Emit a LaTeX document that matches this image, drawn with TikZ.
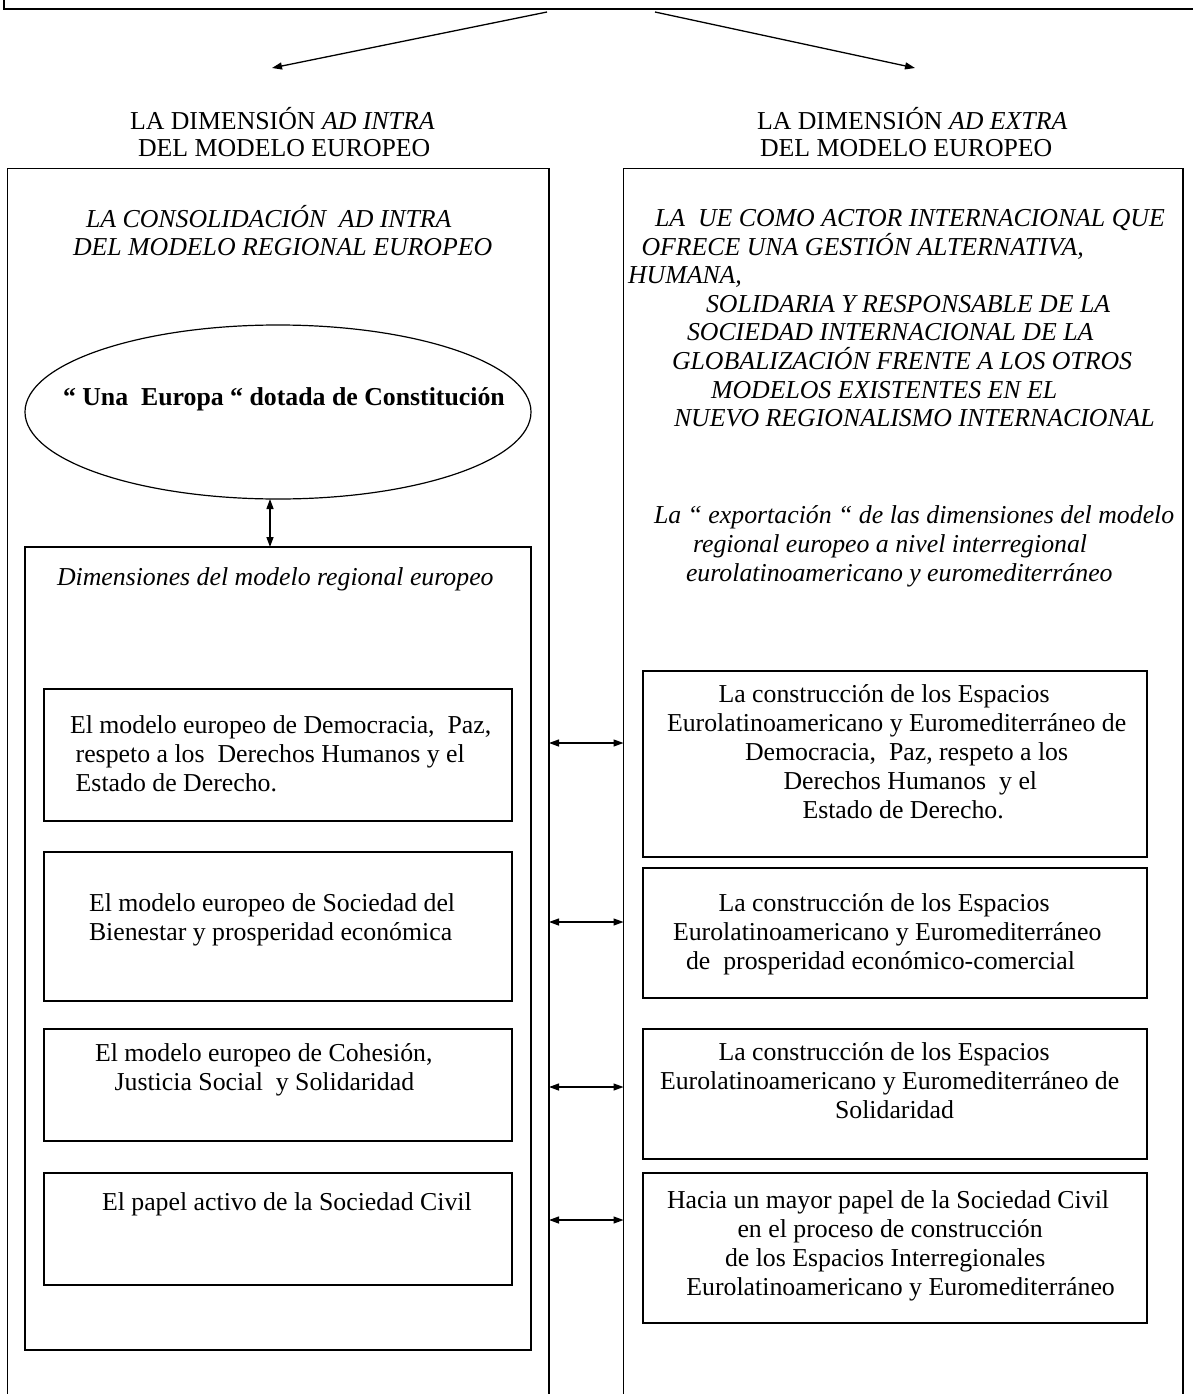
\documentclass[tikz,border=0pt]{standalone}
\usepackage{fontspec}
\setmainfont{Liberation Serif}
\usetikzlibrary{arrows.meta,shapes.geometric}
\newcommand\putline[4]{\node[anchor=base west] (#1) at (#2,#3) {#4};}
\begin{document}
\begin{tikzpicture}[x=1pt,y=-1pt,
  every node/.style={inner sep=0pt, outer sep=0pt, font=\fontsize{25.8pt}{29pt}\selectfont},
  box/.style={draw, line width=1.2pt, anchor=north west},
  arr/.style={-{Triangle[length=10pt,width=7pt]}, line width=1.3pt},
  dbl/.style={{Triangle[length=10pt,width=7pt]}-{Triangle[length=10pt,width=7pt]}, line width=1.3pt}]
\useasboundingbox (0,0) rectangle (1192,1394);
\fill[white] (0,0) rectangle (1192,1394);

% top box (cut by the page)
\node[box, anchor=south west, minimum width=1220pt, minimum height=40pt] (T) at (4,9) {};
\coordinate (tL) at (547,12);
\coordinate (tR) at (655,12);
\coordinate (hL) at (272,68);
\coordinate (hR) at (915,68);
\draw[arr] (tL) -- (hL);
\draw[arr] (tR) -- (hR);

% headers
\putline{h1}{130}{129}{LA DIMENSIÓN \textit{AD INTRA}}
\putline{h2}{138}{157}{DEL MODELO EUROPEO}
\putline{h3}{757}{129}{LA DIMENSIÓN \textit{AD EXTRA}}
\putline{h4}{760}{157}{DEL MODELO EUROPEO}

% big column boxes
\node[box, minimum width=541.5pt, minimum height=1235pt] (BL) at (7.5,168.5) {};
\node[box, minimum width=559.5pt, minimum height=1235pt] (BR) at (623.5,168.5) {};

% left column
\putline{lt1}{86}{227}{\itshape LA CONSOLIDACIÓN\ \ AD INTRA}
\putline{lt2}{73}{255.5}{\itshape DEL MODELO REGIONAL EUROPEO}

\node[draw, ellipse, line width=1.2pt, minimum width=506pt, minimum height=174pt] (E) at (278,412) {};
\putline{et}{63}{405}{\bfseries “ Una\ \ Europa “ dotada de Constitución}

\node[box, minimum width=506pt, minimum height=803pt] (D) at (25,547) {};
\draw[line width=2.2pt] (D.south west) -- (D.south east);
\putline{dt}{57}{585}{\itshape Dimensiones del modelo regional europeo}
\coordinate (ax) at (270,0);
\draw[dbl] (ax |- E.south) -- (ax |- D.north);

\node[box, minimum width=468pt, minimum height=132pt] (L1) at (44,689) {};
\putline{l1a}{70}{733}{El modelo europeo de Democracia,\ \ Paz,}
\putline{l1b}{75.7}{762}{respeto a los\ \ Derechos Humanos y el}
\putline{l1c}{75.7}{791}{Estado de Derecho.}

\node[box, minimum width=468pt, minimum height=149pt] (L2) at (44,852) {};
\putline{l2a}{89}{911}{El modelo europeo de Sociedad del}
\putline{l2b}{89}{940}{Bienestar y prosperidad económica}

\node[box, minimum width=468pt, minimum height=112pt] (L3) at (44,1029) {};
\putline{l3a}{95}{1061}{El modelo europeo de Cohesión,}
\putline{l3b}{114.6}{1090}{Justicia Social\ \ y Solidaridad}

\node[box, minimum width=468pt, minimum height=112pt] (L4) at (44,1173) {};
\putline{l4a}{102}{1210}{El papel activo de la Sociedad Civil}

% right column
\putline{rt1}{655}{226.5}{\itshape LA\ \ UE COMO ACTOR INTERNACIONAL QUE}
\putline{rt2}{641.5}{255.1}{\itshape OFRECE UNA GESTIÓN ALTERNATIVA,}
\putline{rt3}{628}{283.7}{\itshape HUMANA,}
\putline{rt4}{706}{312.3}{\itshape SOLIDARIA Y RESPONSABLE DE LA}
\putline{rt5}{687}{340.9}{\itshape SOCIEDAD INTERNACIONAL DE LA}
\putline{rt6}{672}{369.5}{\itshape GLOBALIZACIÓN FRENTE A LOS OTROS}
\putline{rt7}{711}{398.1}{\itshape MODELOS EXISTENTES EN EL}
\putline{rt8}{674}{426.7}{\itshape NUEVO REGIONALISMO INTERNACIONAL}

\putline{ex1}{654}{523}{\itshape La “ exportación “ de las dimensiones del modelo}
\putline{ex2}{693}{552}{\itshape regional europeo a nivel interregional}
\putline{ex3}{686}{581}{\itshape eurolatinoamericano y euromediterráneo}

\node[box, minimum width=504pt, minimum height=186pt] (R1) at (643,671) {};
\putline{r1a}{718.5}{702}{La construcción de los Espacios}
\putline{r1b}{667}{731}{Eurolatinoamericano y Euromediterráneo de}
\putline{r1c}{745}{760}{Democracia,\ \ Paz, respeto a los}
\putline{r1d}{783.5}{789}{Derechos Humanos\ \ y el}
\putline{r1e}{802.5}{818}{Estado de Derecho.}

\node[box, minimum width=504pt, minimum height=130pt] (R2) at (643,868) {};
\putline{r2a}{718.5}{911}{La construcción de los Espacios}
\putline{r2b}{673}{940}{Eurolatinoamericano y Euromediterráneo}
\putline{r2c}{686}{969}{de\ \ prosperidad económico-comercial}

\node[box, minimum width=504pt, minimum height=130pt] (R3) at (643,1029) {};
\putline{r3a}{718.5}{1060}{La construcción de los Espacios}
\putline{r3b}{660}{1089}{Eurolatinoamericano y Euromediterráneo de}
\putline{r3c}{835}{1118}{Solidaridad}

\node[box, line width=2pt, minimum width=504pt, minimum height=150pt] (R4) at (643,1173) {};
\putline{r4a}{667}{1208}{Hacia un mayor papel de la Sociedad Civil}
\putline{r4b}{737.5}{1237}{en el proceso de construcción}
\putline{r4c}{725}{1266}{de los Espacios Interregionales}
\putline{r4d}{686.4}{1295}{Eurolatinoamericano y Euromediterráneo}

% two-way links between the columns
\foreach \yy/\nm in {743/a1, 922/a2, 1087/a3, 1220/a4} {
  \coordinate (\nm) at (0,\yy);
  \draw[dbl] (BL.east |- \nm) -- (BR.west |- \nm);
}
\end{tikzpicture}
\end{document}
